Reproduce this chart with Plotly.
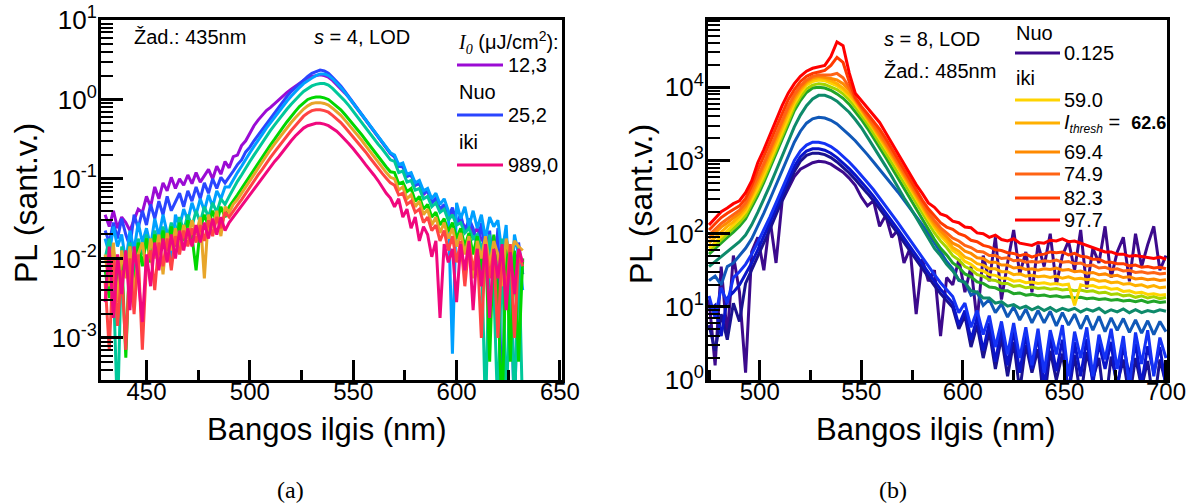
import plotly.graph_objects as go

# ---------------- Panel (a) data: wavelength grid (nm) and log10(PL) values ----------------
wl_a = list(range(430, 633, 2))

la_12_3 = [
    -1.45,-1.60,-1.40,-1.62,-1.48,-1.55,-1.65,-1.52,-1.38,-1.42,
    -1.22,-1.35,-1.10,-1.25,-1.05,-1.15,-0.98,-1.12,-1.00,-1.08,
    -0.95,-1.06,-0.92,-1.04,-0.96,-0.88,-1.00,-0.84,-0.94,-0.78,
    -0.86,-0.72,-0.70,-0.58,-0.52,-0.42,-0.33,-0.26,-0.20,-0.14,
    -0.10,-0.05,-0.01,0.04,0.09,0.13,0.17,0.21,0.24,0.27,
    0.29,0.30,0.31,0.30,0.28,0.24,0.19,0.14,0.08,0.02,
    -0.05,-0.12,-0.19,-0.26,-0.33,-0.40,-0.47,-0.54,-0.61,-0.68,
    -0.72,-0.84,-0.82,-0.96,-0.94,-1.08,-1.04,-1.20,-1.14,-1.30,
    -1.24,-1.40,-1.35,-1.45,-1.42,-1.58,-1.50,-1.62,-1.55,-1.70,
    -1.62,-1.78,-1.70,-1.90,-1.72,-2.05,-1.80,-1.95,-1.85,-2.15,
    -1.90,-2.20]
la_25_2 = [
    -1.65,-1.80,-1.55,-1.75,-1.50,-1.70,-1.85,-1.45,-1.62,-1.40,
    -1.58,-1.32,-1.50,-1.28,-1.45,-1.22,-1.40,-1.30,-1.18,-1.35,
    -1.15,-1.28,-1.10,-1.25,-1.05,-1.18,-1.00,-1.12,-0.98,-1.05,
    -0.98,-0.90,-0.82,-0.76,-0.66,-0.60,-0.52,-0.45,-0.38,-0.30,
    -0.23,-0.16,-0.10,-0.03,0.04,0.10,0.15,0.20,0.25,0.29,
    0.33,0.35,0.37,0.36,0.33,0.28,0.23,0.17,0.10,0.03,
    -0.04,-0.11,-0.18,-0.25,-0.32,-0.39,-0.46,-0.53,-0.60,-0.68,
    -0.72,-0.84,-0.85,-0.97,-0.95,-1.08,-1.06,-1.18,-1.15,-1.30,
    -1.25,-1.38,-1.32,-1.48,-1.36,-1.55,-1.45,-1.68,-1.50,-1.62,
    -1.85,-1.55,-2.05,-1.65,-2.30,-1.62,-4.00,-1.75,-2.10,-4.00,
    -1.80,-2.20]
la_c3 = [
    -1.75,-1.95,-1.60,-1.85,-1.70,-2.05,-1.65,-1.90,-1.55,-1.80,
    -1.62,-1.85,-1.50,-1.72,-1.45,-1.68,-2.05,-1.45,-1.60,-1.38,
    -1.52,-1.30,-1.45,-1.25,-1.40,-1.20,-1.35,-1.15,-1.25,-1.10,
    -1.10,-1.00,-0.92,-0.84,-0.75,-0.67,-0.59,-0.52,-0.44,-0.36,
    -0.29,-0.22,-0.15,-0.08,-0.02,0.04,0.10,0.15,0.20,0.24,
    0.27,0.30,0.32,0.32,0.30,0.26,0.21,0.15,0.09,0.02,
    -0.05,-0.12,-0.19,-0.26,-0.33,-0.40,-0.47,-0.54,-0.61,-0.67,
    -0.70,-0.82,-0.80,-0.94,-0.92,-1.05,-1.02,-1.15,-1.12,-1.25,
    -1.18,-1.32,-1.25,-1.40,-3.20,-1.30,-1.50,-1.35,-1.60,-1.40,
    -1.62,-1.45,-1.75,-1.48,-1.60,-1.52,-1.95,-1.58,-2.60,-1.70,
    -1.95,-2.40]
la_c4 = [
    -2.00,-1.75,-2.30,-4.00,-1.85,-2.05,-1.80,-2.25,-1.75,-1.95,
    -1.70,-1.92,-1.65,-1.85,-1.60,-1.78,-1.55,-1.72,-1.48,-1.65,
    -1.45,-1.60,-1.40,-1.55,-1.35,-1.48,-1.30,-1.42,-1.25,-1.32,
    -1.22,-1.12,-1.03,-0.95,-0.86,-0.78,-0.70,-0.62,-0.54,-0.46,
    -0.39,-0.32,-0.25,-0.18,-0.12,-0.06,0.00,0.05,0.10,0.14,
    0.17,0.19,0.20,0.20,0.18,0.14,0.09,0.04,-0.02,-0.08,
    -0.15,-0.22,-0.28,-0.35,-0.42,-0.49,-0.56,-0.62,-0.69,-0.76,
    -0.78,-0.92,-0.90,-1.04,-1.02,-1.14,-1.12,-1.25,-1.22,-1.35,
    -1.30,-1.42,-1.38,-1.52,-1.45,-1.58,-1.55,-1.68,-1.62,-1.75,
    -1.70,-1.85,-4.00,-1.70,-2.35,-4.00,-1.75,-4.00,-2.05,-4.00,
    -1.85,-4.00]
la_c5 = [
    -2.15,-2.50,-1.90,-2.35,-1.95,-3.25,-1.85,-2.45,-1.80,-2.10,
    -1.75,-2.05,-1.70,-1.95,-1.65,-1.90,-1.60,-1.85,-1.55,-1.78,
    -1.52,-1.72,-2.15,-1.62,-1.45,-1.60,-1.40,-1.55,-1.35,-1.48,
    -1.35,-1.28,-1.20,-1.12,-1.04,-0.96,-0.88,-0.80,-0.72,-0.64,
    -0.57,-0.50,-0.42,-0.35,-0.28,-0.21,-0.15,-0.09,-0.04,0.00,
    0.02,0.03,0.03,0.02,0.00,-0.04,-0.08,-0.13,-0.19,-0.25,
    -0.31,-0.38,-0.44,-0.51,-0.58,-0.65,-0.72,-0.78,-0.85,-0.91,
    -0.92,-1.06,-1.04,-1.16,-1.12,-1.28,-1.22,-1.38,-1.32,-1.48,
    -1.42,-1.58,-1.50,-1.66,-1.55,-1.75,-1.62,-1.85,-1.68,-1.95,
    -1.72,-2.15,-1.78,-3.30,-1.70,-2.45,-4.00,-1.85,-3.30,-1.90,
    -3.30,-2.00]
la_c6 = [
    -1.95,-2.35,-1.80,-2.55,-1.90,-2.25,-1.85,-2.45,-1.95,-1.80,
    -2.15,-1.75,-2.00,-1.70,-2.20,-1.68,-1.90,-1.62,-1.85,-1.58,
    -1.75,-1.52,-1.70,-1.48,-2.25,-1.45,-1.62,-1.40,-1.72,-1.35,
    -1.42,-1.32,-1.26,-1.18,-1.10,-1.02,-0.94,-0.86,-0.78,-0.70,
    -0.63,-0.56,-0.49,-0.42,-0.35,-0.29,-0.23,-0.17,-0.12,-0.08,
    -0.05,-0.04,-0.04,-0.05,-0.07,-0.11,-0.15,-0.20,-0.26,-0.32,
    -0.38,-0.45,-0.51,-0.58,-0.65,-0.72,-0.79,-0.85,-0.92,-0.98,
    -1.00,-1.14,-1.10,-1.25,-1.20,-1.35,-1.28,-1.45,-1.38,-1.58,
    -1.48,-1.68,-1.55,-1.75,-1.62,-1.85,-1.68,-1.95,-1.72,-2.25,
    -1.78,-2.00,-1.72,-2.10,-1.78,-1.95,-2.35,-1.75,-2.00,-1.78,
    -1.85,-1.90]
la_c7 = [
    -2.30,-3.15,-2.00,-2.85,-2.15,-3.15,-2.00,-2.70,-1.95,-3.15,
    -2.05,-1.90,-2.40,-1.80,-2.10,-1.75,-2.15,-1.72,-1.95,-1.65,
    -1.85,-1.62,-1.80,-1.58,-1.78,-1.52,-1.72,-1.48,-1.62,-1.42,
    -1.48,-1.40,-1.33,-1.26,-1.18,-1.10,-1.02,-0.95,-0.88,-0.80,
    -0.73,-0.66,-0.59,-0.52,-0.45,-0.39,-0.33,-0.27,-0.21,-0.17,
    -0.14,-0.13,-0.13,-0.14,-0.16,-0.20,-0.24,-0.29,-0.35,-0.41,
    -0.47,-0.53,-0.60,-0.66,-0.73,-0.80,-0.86,-0.93,-0.99,-1.05,
    -1.08,-1.20,-1.18,-1.32,-1.28,-1.42,-1.38,-1.55,-1.48,-1.65,
    -1.58,-1.78,-1.65,-1.90,-1.72,-2.05,-1.78,-2.35,-1.82,-2.15,
    -1.88,-3.00,-1.82,-2.25,-1.92,-3.00,-1.88,-2.45,-1.82,-3.00,
    -1.95,-2.10]
la_989_0 = [
    -2.55,-1.85,-2.75,-1.95,-2.45,-1.90,-2.65,-1.85,-2.25,-2.80,
    -1.95,-2.35,-1.80,-2.15,-1.75,-2.05,-1.70,-2.00,-1.65,-1.90,
    -1.62,-1.85,-1.58,-1.80,-1.55,-1.75,-1.50,-1.70,-1.48,-1.65,
    -1.55,-1.48,-1.40,-1.33,-1.26,-1.19,-1.12,-1.05,-0.98,-0.91,
    -0.84,-0.78,-0.72,-0.65,-0.58,-0.52,-0.46,-0.41,-0.36,-0.33,
    -0.31,-0.30,-0.30,-0.31,-0.33,-0.36,-0.40,-0.45,-0.50,-0.56,
    -0.62,-0.68,-0.75,-0.82,-0.88,-0.95,-1.02,-1.10,-1.18,-1.24,
    -1.35,-1.25,-1.48,-1.38,-1.62,-1.48,-1.78,-1.60,-1.70,-1.98,
    -1.78,-2.75,-1.82,-2.05,-1.88,-2.55,-1.82,-2.15,-1.78,-2.65,
    -1.88,-2.35,-1.82,-2.75,-1.88,-2.25,-1.82,-2.65,-1.92,-2.45,
    -1.88,-2.05]

series_a = [la_12_3, la_25_2, la_c3, la_c4, la_c5, la_c6, la_c7, la_989_0]
colors_a = ["#9B0BD4", "#2A45FF", "#00A0FF", "#00C89A", "#00D700", "#E8A52A", "#FF4444", "#F0087E"]

# ---------------- Panel (b) data ----------------
wl_b = list(range(475, 701, 3))

lb_0_125 = [
    1.10,0.20,1.55,0.60,1.70,1.20,0.10,1.75,1.95,1.50,
    2.20,1.60,2.45,2.62,2.78,2.88,2.93,2.97,2.99,2.98,
    2.95,2.90,2.84,2.76,2.66,2.50,2.38,2.45,2.10,2.25,
    1.95,2.05,1.60,1.80,0.90,1.65,1.35,1.50,0.60,1.40,
    1.30,1.65,1.20,1.55,0.80,1.70,1.35,1.95,1.10,1.60,
    2.05,1.45,1.75,1.20,1.85,1.55,2.00,1.30,1.70,1.90,
    1.50,2.05,1.25,1.80,1.60,2.10,1.40,1.75,1.95,1.35,
    2.00,1.55,1.85,2.10,1.50,1.70]
lb_navy = [
    0.75,0.40,0.90,0.55,1.05,0.80,1.32,1.50,1.68,1.87,
    2.06,2.26,2.46,2.66,2.85,2.99,3.07,3.10,3.10,3.08,
    3.04,2.98,2.91,2.83,2.74,2.65,2.55,2.45,2.34,2.23,
    2.12,2.00,1.88,1.76,1.64,1.52,1.40,1.29,1.18,1.08,
    0.99,0.70,0.88,0.45,0.75,0.30,0.66,0.15,0.58,0.05,
    0.52,-0.15,0.48,0.10,0.42,-0.30,0.40,0.00,0.36,-0.20,
    0.34,-0.25,0.38,0.02,0.30,-0.40,0.32,-0.05,0.28,-0.25,
    0.30,-0.10,0.26,-0.35,0.28,-0.05]
lb_dblue = [
    0.95,1.02,0.60,1.12,1.20,1.30,1.45,1.60,1.78,1.96,
    2.15,2.34,2.54,2.74,2.92,3.05,3.13,3.16,3.16,3.14,
    3.10,3.04,2.97,2.89,2.80,2.71,2.61,2.51,2.40,2.29,
    2.18,2.06,1.94,1.82,1.70,1.58,1.46,1.35,1.24,1.14,
    1.05,0.75,0.95,0.55,0.85,0.40,0.78,0.25,0.70,0.20,
    0.68,0.10,0.62,0.15,0.60,-0.10,0.58,0.12,0.55,-0.20,
    0.52,0.05,0.56,-0.05,0.50,0.15,0.52,-0.15,0.48,0.05,
    0.50,-0.05,0.46,0.10,0.45,-0.10]
lb_blue = [
    1.15,0.85,1.26,1.05,1.40,1.48,1.58,1.72,1.88,2.05,
    2.23,2.42,2.62,2.82,3.00,3.13,3.21,3.25,3.25,3.23,
    3.19,3.13,3.06,2.98,2.89,2.80,2.70,2.60,2.49,2.38,
    2.27,2.15,2.03,1.91,1.79,1.67,1.55,1.44,1.33,1.23,
    1.14,0.92,1.05,0.72,0.95,0.62,0.88,0.45,0.80,0.35,
    0.78,0.30,0.72,0.20,0.70,0.10,0.68,0.35,0.75,0.05,
    0.66,0.30,0.72,0.05,0.62,0.28,0.70,0.15,0.60,-0.10,
    0.65,0.22,0.68,0.05,0.58,0.30]
lb_medblue = [
    1.36,1.42,1.30,1.55,1.60,1.70,1.80,1.93,2.10,2.28,
    2.47,2.66,2.86,3.06,3.25,3.40,3.51,3.57,3.59,3.58,
    3.55,3.50,3.43,3.35,3.27,3.18,3.08,2.98,2.88,2.78,
    2.68,2.57,2.46,2.35,2.24,2.12,2.00,1.88,1.75,1.62,
    1.52,1.36,1.34,1.16,1.20,1.02,1.10,0.92,1.04,0.86,
    1.00,0.82,0.97,0.78,0.95,0.78,0.94,0.74,0.92,0.75,
    0.90,0.70,0.88,0.68,0.87,0.66,0.85,0.68,0.84,0.65,
    0.82,0.64,0.81,0.62,0.80,0.66]
lb_teal = [
    1.55,1.62,1.69,1.76,1.82,1.89,1.98,2.12,2.29,2.47,
    2.66,2.86,3.06,3.27,3.46,3.62,3.75,3.84,3.89,3.89,
    3.86,3.81,3.74,3.66,3.56,3.45,3.32,3.19,3.06,2.92,
    2.78,2.63,2.49,2.36,2.22,2.08,1.95,1.80,1.70,1.58,
    1.49,1.37,1.33,1.22,1.20,1.12,1.12,1.05,1.07,1.01,
    1.03,0.98,1.01,0.96,1.00,0.95,0.99,0.94,0.98,0.95,
    0.98,0.93,0.97,0.94,0.98,0.92,0.96,0.93,0.97,0.92,
    0.96,0.92,0.95,0.93,0.96,0.94]
lb_green = [
    1.72,1.80,1.88,1.95,2.02,2.10,2.20,2.35,2.52,2.70,
    2.90,3.10,3.30,3.50,3.68,3.82,3.93,3.99,4.00,3.99,
    3.96,3.91,3.85,3.77,3.67,3.56,3.44,3.31,3.18,3.04,
    2.90,2.76,2.61,2.47,2.33,2.19,2.05,1.92,1.80,1.71,
    1.60,1.54,1.45,1.41,1.34,1.32,1.27,1.26,1.22,1.22,
    1.18,1.19,1.16,1.17,1.15,1.16,1.14,1.15,1.13,1.14,
    1.12,1.13,1.11,1.12,1.10,1.11,1.09,1.10,1.08,1.09,
    1.07,1.09,1.06,1.08,1.06,1.07]
lb_ygreen = [
    1.76,1.84,1.92,2.00,2.07,2.15,2.25,2.40,2.57,2.75,
    2.95,3.15,3.35,3.55,3.73,3.87,3.98,4.03,4.05,4.04,
    4.01,3.97,3.91,3.83,3.73,3.62,3.50,3.37,3.24,3.11,
    2.97,2.83,2.69,2.55,2.41,2.27,2.13,2.01,1.90,1.81,
    1.70,1.64,1.55,1.51,1.44,1.42,1.37,1.36,1.32,1.32,
    1.28,1.29,1.26,1.27,1.25,1.26,1.24,1.25,1.23,1.24,
    1.22,1.23,1.21,1.22,1.19,1.20,1.17,1.18,1.15,1.16,
    1.13,1.15,1.12,1.14,1.11,1.13]
lb_59_0 = [
    1.80,1.88,1.97,2.05,2.12,2.20,2.30,2.45,2.62,2.80,
    3.00,3.20,3.40,3.60,3.78,3.92,4.03,4.08,4.10,4.09,
    4.06,4.02,3.96,3.88,3.78,3.67,3.55,3.43,3.30,3.17,
    3.04,2.90,2.76,2.62,2.48,2.34,2.20,2.08,1.97,1.88,
    1.77,1.71,1.62,1.58,1.51,1.49,1.44,1.43,1.39,1.39,
    1.35,1.36,1.33,1.34,1.32,1.33,1.31,1.32,1.30,1.31,
    1.02,1.30,1.28,1.29,1.26,1.27,1.24,1.25,1.21,1.22,
    1.19,1.20,1.17,1.18,1.16,1.17]
lb_62_6 = [
    1.87,1.95,2.03,2.10,2.16,2.24,2.34,2.50,2.68,2.86,
    3.06,3.26,3.46,3.65,3.82,3.96,4.06,4.11,4.13,4.12,
    4.09,4.05,3.99,3.91,3.81,3.69,3.57,3.45,3.32,3.19,
    3.06,2.92,2.78,2.64,2.50,2.36,2.23,2.11,2.00,1.92,
    1.81,1.76,1.68,1.65,1.59,1.57,1.52,1.52,1.48,1.48,
    1.44,1.45,1.42,1.43,1.41,1.42,1.40,1.42,1.39,1.41,
    1.38,1.39,1.37,1.38,1.35,1.36,1.33,1.34,1.31,1.32,
    1.29,1.30,1.27,1.29,1.26,1.27]
lb_69_4 = [
    1.93,2.01,2.09,2.15,2.21,2.28,2.38,2.54,2.73,2.91,
    3.11,3.31,3.51,3.70,3.86,3.99,4.08,4.13,4.15,4.14,
    4.12,4.10,4.05,3.96,3.83,3.71,3.59,3.47,3.35,3.22,
    3.09,2.95,2.81,2.67,2.53,2.39,2.26,2.14,2.04,1.96,
    1.87,1.83,1.76,1.73,1.67,1.66,1.61,1.61,1.57,1.57,
    1.53,1.54,1.51,1.52,1.50,1.52,1.51,1.53,1.50,1.51,
    1.48,1.49,1.46,1.47,1.44,1.45,1.42,1.43,1.40,1.41,
    1.38,1.39,1.37,1.38,1.36,1.37]
lb_74_9 = [
    1.98,2.06,2.14,2.20,2.26,2.32,2.42,2.59,2.78,2.96,
    3.16,3.36,3.56,3.74,3.90,4.02,4.10,4.15,4.17,4.17,
    4.17,4.19,4.13,4.00,3.84,3.72,3.61,3.50,3.38,3.25,
    3.12,2.98,2.84,2.70,2.56,2.42,2.29,2.18,2.08,2.01,
    1.94,1.90,1.84,1.81,1.76,1.75,1.70,1.70,1.66,1.67,
    1.63,1.64,1.61,1.62,1.61,1.63,1.62,1.64,1.61,1.62,
    1.59,1.60,1.56,1.57,1.53,1.54,1.51,1.52,1.49,1.50,
    1.47,1.48,1.46,1.47,1.45,1.46]
lb_82_3 = [
    2.05,2.14,2.22,2.28,2.33,2.38,2.48,2.66,2.87,3.05,
    3.25,3.45,3.65,3.83,3.97,4.08,4.15,4.19,4.21,4.23,
    4.30,4.41,4.34,4.08,3.86,3.74,3.64,3.54,3.43,3.30,
    3.16,3.02,2.88,2.74,2.60,2.46,2.34,2.24,2.15,2.09,
    2.06,2.00,1.97,1.91,1.89,1.84,1.82,1.78,1.77,1.74,
    1.73,1.70,1.72,1.68,1.71,1.72,1.75,1.74,1.75,1.71,
    1.73,1.69,1.68,1.65,1.65,1.61,1.61,1.59,1.59,1.56,
    1.57,1.54,1.55,1.53,1.54,1.52]
lb_97_7 = [
    2.12,2.21,2.30,2.35,2.41,2.45,2.56,2.72,2.97,3.15,
    3.35,3.55,3.75,3.92,4.05,4.15,4.22,4.26,4.28,4.30,
    4.42,4.62,4.57,4.20,3.92,3.82,3.72,3.62,3.52,3.38,
    3.24,3.10,2.96,2.82,2.67,2.55,2.42,2.36,2.27,2.24,
    2.17,2.15,2.09,2.08,2.01,2.00,1.95,1.98,1.92,1.90,
    1.93,1.87,1.86,1.84,1.88,1.87,1.91,1.90,1.93,1.89,
    1.90,1.87,1.85,1.81,1.79,1.75,1.75,1.72,1.72,1.69,
    1.70,1.69,1.68,1.66,1.68,1.65]

series_b = [lb_0_125, lb_navy, lb_dblue, lb_blue, lb_medblue, lb_teal, lb_green,
            lb_ygreen, lb_59_0, lb_62_6, lb_69_4, lb_74_9, lb_82_3, lb_97_7]
colors_b = ["#3C0A8C", "#1A1290", "#0A14C8", "#1432F5", "#1058B8", "#0E8A6A", "#22A528",
            "#A6D400", "#FFD400", "#FFB000", "#FF8A00", "#FF6414", "#FF3A00", "#FF0000"]

for s in series_a:
    assert len(s) == len(wl_a), len(s)
for s in series_b:
    assert len(s) == len(wl_b), len(s)

W, H = 1201, 504
def px(x):
    return x / W
def py(y):
    return 1 - y / H

fig = go.Figure()
for vals, c in zip(series_a, colors_a):
    fig.add_trace(go.Scatter(x=wl_a, y=[10 ** v for v in vals], mode="lines",
                             line=dict(color=c, width=3), xaxis="x", yaxis="y",
                             showlegend=False, hoverinfo="skip"))
for vals, c in zip(series_b, colors_b):
    fig.add_trace(go.Scatter(x=wl_b, y=[10 ** v for v in vals], mode="lines",
                             line=dict(color=c, width=3), xaxis="x2", yaxis="y2",
                             showlegend=False, hoverinfo="skip"))

FONT = "Liberation Sans, Arial, sans-serif"

def xaxis_cfg(domain, rng, anchor):
    return dict(domain=domain, range=rng, anchor=anchor, showline=True, mirror=True,
                linecolor="black", linewidth=3, ticks="inside", ticklen=20, tickwidth=2.5,
                tickcolor="black", dtick=50, tick0=0, showgrid=False, zeroline=False,
                tickfont=dict(family=FONT, size=24, color="black"), automargin=False,
                ticklabelstandoff=-12,
                minor=dict(dtick=25, tick0=0, ticks="inside", ticklen=10, tickwidth=2.5,
                           tickcolor="black", showgrid=False))

def yaxis_cfg(domain, rng, anchor, exps):
    minors = [m * 10.0 ** e for e in range(exps[0] - 1, exps[-1] + 1) for m in range(2, 10)]
    return dict(domain=domain, range=rng, anchor=anchor, type="log", showline=True, mirror=True,
                linecolor="black", linewidth=3, ticks="inside", ticklen=22, tickwidth=2.5,
                tickcolor="black", tickmode="array",
                tickvals=[10.0 ** e for e in exps],
                ticktext=["10<sup>%d</sup>" % e for e in exps],
                showgrid=False, zeroline=False,
                tickfont=dict(family=FONT, size=26, color="black"), automargin=False,
                ticklabelstandoff=-4,
                minor=dict(tickmode="array", tickvals=minors, ticks="inside", ticklen=12,
                           tickwidth=2, tickcolor="black", showgrid=False))

ydom = [py(380), py(20)]
fig.update_layout(
    width=W, height=H, margin=dict(l=0, r=0, t=0, b=0, autoexpand=False),
    paper_bgcolor="white", plot_bgcolor="white",
    font=dict(family=FONT, color="black"),
    xaxis=xaxis_cfg([px(101), px(562)], [428, 651], "y"),
    yaxis=yaxis_cfg(ydom, [-3.53, 1.0], "x", [-3, -2, -1, 0, 1]),
    xaxis2=xaxis_cfg([px(708), px(1167)], [474.5, 700.5], "y2"),
    yaxis2=yaxis_cfg(ydom, [0, 4.92], "x2", [0, 1, 2, 3, 4]),
)

ann = []
def text(x, y, s, size=20, xanchor="left", angle=0, family=FONT):
    ann.append(dict(x=px(x), y=py(y), xref="paper", yref="paper", text=s, showarrow=False,
                    xanchor=xanchor, yanchor="middle", textangle=angle,
                    font=dict(family=family, size=size, color="black")))

# axis titles
text(326, 429, "Bangos ilgis (nm)", size=31, xanchor="center")
text(935, 429, "Bangos ilgis (nm)", size=31, xanchor="center")
text(26, 203, "PL (sant.v.)", size=32, xanchor="center", angle=-90)
text(641, 204, "PL (sant.v.)", size=32, xanchor="center", angle=-90)
# captions
text(290, 490, "(a)", size=24, xanchor="center", family="Liberation Serif, Times New Roman, serif")
text(893, 490, "(b)", size=24, xanchor="center", family="Liberation Serif, Times New Roman, serif")

# panel (a) texts
text(132, 37, "Žad.: 435nm")
text(312, 37, "<i>s</i> = 4, LOD")
text(456, 42, "<span style=\"font-family:'Liberation Serif'\"><i>I<sub>0</sub></i></span> (μJ/cm<sup>2</sup>):")
leg_a = [("12,3", colors_a[0], 65), ("25,2", colors_a[1], 115), ("989,0", colors_a[-1], 165)]
shapes = []
for lab, c, y in leg_a:
    shapes.append(dict(type="line", xref="paper", yref="paper", x0=px(457), x1=px(503),
                       y0=py(y), y1=py(y), line=dict(color=c, width=3)))
    text(506, y, lab)
text(457, 92, "Nuo")
text(457, 142, "iki")

# panel (b) texts
text(882, 39, "<i>s</i> = 8, LOD")
text(882, 71, "Žad.: 485nm")
text(1014, 33, "Nuo")
text(1014, 78, "iki")
ithresh = ("<i>I</i><sub><i><span style=\"font-size:12px\">thresh</span></i></sub>"
           "&nbsp;=&nbsp;&nbsp;"
           "<b><span style=\"font-size:18px\">62.6</span></b>")
leg_b = [("0.125", colors_b[0], 53), ("59.0", colors_b[8], 100),
         (ithresh, colors_b[9], 123),
         ("69.4", colors_b[10], 152), ("74.9", colors_b[11], 174),
         ("82.3", colors_b[12], 198), ("97.7", colors_b[13], 220)]
for lab, c, y in leg_b:
    shapes.append(dict(type="line", xref="paper", yref="paper", x0=px(1015), x1=px(1060),
                       y0=py(y), y1=py(y), line=dict(color=c, width=3)))
    text(1062, y, lab)

fig.update_layout(annotations=ann, shapes=shapes)
fig.write_html("out.html")
